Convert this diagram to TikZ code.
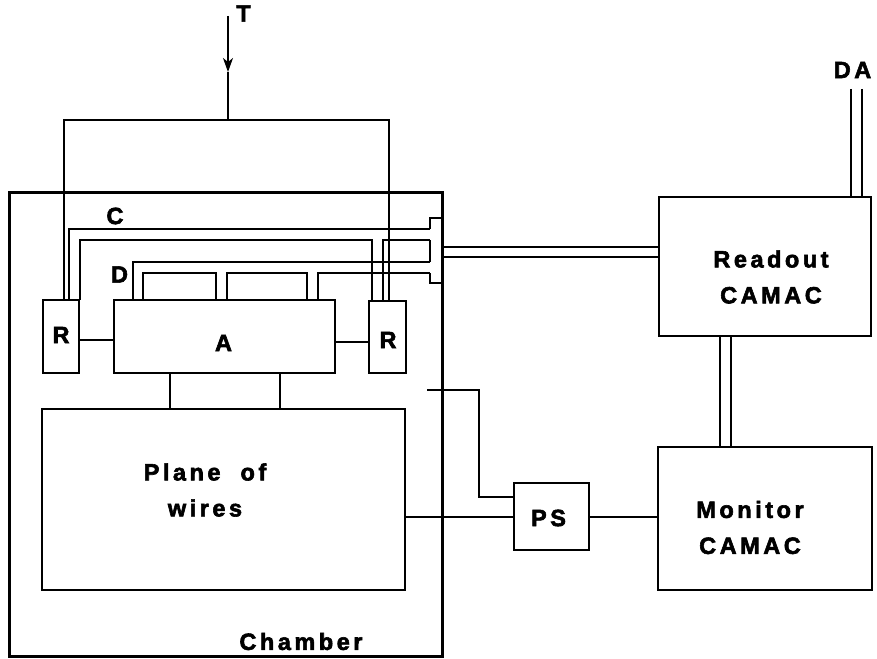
\documentclass[tikz,border=0pt]{standalone}
\usepackage{fontspec}
\setmainfont{Liberation Sans}
\newfontfamily\lblfont{Liberation Sans Bold}[LetterSpace=15, FakeBold=2.5]
\usetikzlibrary{arrows.meta}
\begin{document}
\begin{tikzpicture}[x=1pt, y=-1pt,
  wire/.style={line width=1.4pt},
  box/.style={draw, line width=2.2pt, inner sep=0pt, outer sep=0pt},
  thickbox/.style={box, line width=3pt},
  lbl/.style={font=\lblfont\fontsize{23.5}{36}\selectfont, inner sep=0pt, align=center},
]
\useasboundingbox (0,0) rectangle (877,658);

% boxes
\node[thickbox, minimum width=433pt, minimum height=464pt] (ch) at (225.5,424) {};
\node[box, minimum width=36pt, minimum height=73pt] (lR) at (61,336.5) {};
\node[box, minimum width=221pt, minimum height=73pt] (A) at (224.5,336.5) {};
\node[box, minimum width=37pt, minimum height=72pt] (rR) at (387.5,337) {};
\node[box, line width=1.8pt, minimum width=363pt, minimum height=181pt] (pl) at (223.5,499.5) {};
\node[box, line width=2.5pt, minimum width=75pt, minimum height=67pt] (ps) at (551.5,516.5) {};
\node[box, line width=2.6pt, minimum width=212pt, minimum height=139pt] (ro) at (765,266.5) {};
\node[box, line width=2.6pt, minimum width=214pt, minimum height=143pt] (mo) at (765,518.5) {};
\node[inner sep=0pt, outer sep=0pt, minimum width=12pt, minimum height=65pt] (blk) at (436,250.5) {};

% coordinates of bends
\coordinate (c1) at (69,229);
\coordinate (c2) at (80,240);
\coordinate (c2r) at (372,240);
\coordinate (c3) at (383,240);
\coordinate (d1) at (133,262);
\coordinate (e1) at (143,273); \coordinate (e1r) at (216,273);
\coordinate (e2) at (227,273); \coordinate (e2r) at (307,273);
\coordinate (e3) at (318,273);
\coordinate (tl) at (64,120); \coordinate (tr) at (389,120);
\coordinate (ttop) at (228,16); \coordinate (tmid) at (228,72); \coordinate (tbar) at (228,120);
\coordinate (ra1) at (96,340); \coordinate (ra2) at (352,342);
\coordinate (ap1) at (170,390); \coordinate (ap2) at (280,390);
\coordinate (pp) at (460,517);
\coordinate (in0) at (427,390); \coordinate (in1) at (479,390); \coordinate (in2) at (479,497);
\coordinate (b1) at (550,247); \coordinate (b2) at (550,257);
\coordinate (v1) at (720,390); \coordinate (v2) at (731,390);
\coordinate (da1) at (851,89); \coordinate (da2) at (862,89);

% connector block on the chamber wall
\draw[line width=2pt] (blk.north east) -- (blk.north west) -- (blk.west |- c1);
\draw[line width=2pt] (blk.west |- c3) -- (blk.west |- d1);
\draw[line width=2pt] (blk.west |- e3) -- (blk.south west) -- (blk.south east);

% trigger
\draw[wire] (tl |- lR.north) -- (tl) -- (tr) -- (tr |- rR.north);
\draw[wire, -{Stealth[length=14pt, width=10pt, inset=4pt]}] (ttop) -- (tmid);
\draw[wire] (tmid) -- (tbar);

% C and D lines
\draw[wire] (c1 |- lR.north) -- (c1) -- (c1 -| blk.west);
\draw[wire] (c2 |- lR.north) -- (c2) -- (c2r) -- (c2r |- rR.north);
\draw[wire] (c3 |- rR.north) -- (c3) -- (c3 -| blk.west);
\draw[wire] (d1 |- A.north) -- (d1) -- (d1 -| blk.west);
\draw[wire] (e1 |- A.north) -- (e1) -- (e1r) -- (e1r |- A.north);
\draw[wire] (e2 |- A.north) -- (e2) -- (e2r) -- (e2r |- A.north);
\draw[wire] (e3 |- A.north) -- (e3) -- (e3 -| blk.west);

% other connections
\draw[wire] (lR.east |- ra1) -- (A.west |- ra1);
\draw[wire] (A.east |- ra2) -- (rR.west |- ra2);
\draw[wire] (ap1 |- A.south) -- (ap1 |- pl.north);
\draw[wire] (ap2 |- A.south) -- (ap2 |- pl.north);
\draw[wire] (pl.east |- pp) -- (ps.west |- pp);
\draw[wire] (ps.east |- pp) -- (mo.west |- pp);
\draw[wire] (in0) -- (in1) -- (in2) -- (in2 -| ps.west);
\draw[wire] (b1 -| blk.east) -- (b1 -| ro.west);
\draw[wire] (b2 -| blk.east) -- (b2 -| ro.west);
\draw[wire] (v1 |- ro.south) -- (v1 |- mo.north);
\draw[wire] (v2 |- ro.south) -- (v2 |- mo.north);
\draw[wire] (da1) -- (da1 |- ro.north);
\draw[wire] (da2) -- (da2 |- ro.north);

% labels
\node[lbl] (Tl) at (243.5,13.5) {T};
\node[lbl] (Cl) at (115,216) {C};
\node[lbl] (Dl) at (119.5,274.5) {D};
\node[lbl] (DAl) at (852.5,70) {DA};
\node[lbl] (lRl) at (61,335) {R};
\node[lbl] (Al) at (223.5,343) {A};
\node[lbl] (rRl) at (388,340) {R};
\node[lbl] (PSl) at (548.5,518) {PS};
\node[lbl] (chl) at (301,641.5) {Chamber};
\node[lbl] (rol) at (771,277) {Readout\\CAMAC};
\node[lbl] (mol) at (750,527.5) {Monitor\\CAMAC};
\node[lbl] (pll) at (205,490) {Plane\hspace{20pt}of\\wires};
\end{tikzpicture}
\end{document}
